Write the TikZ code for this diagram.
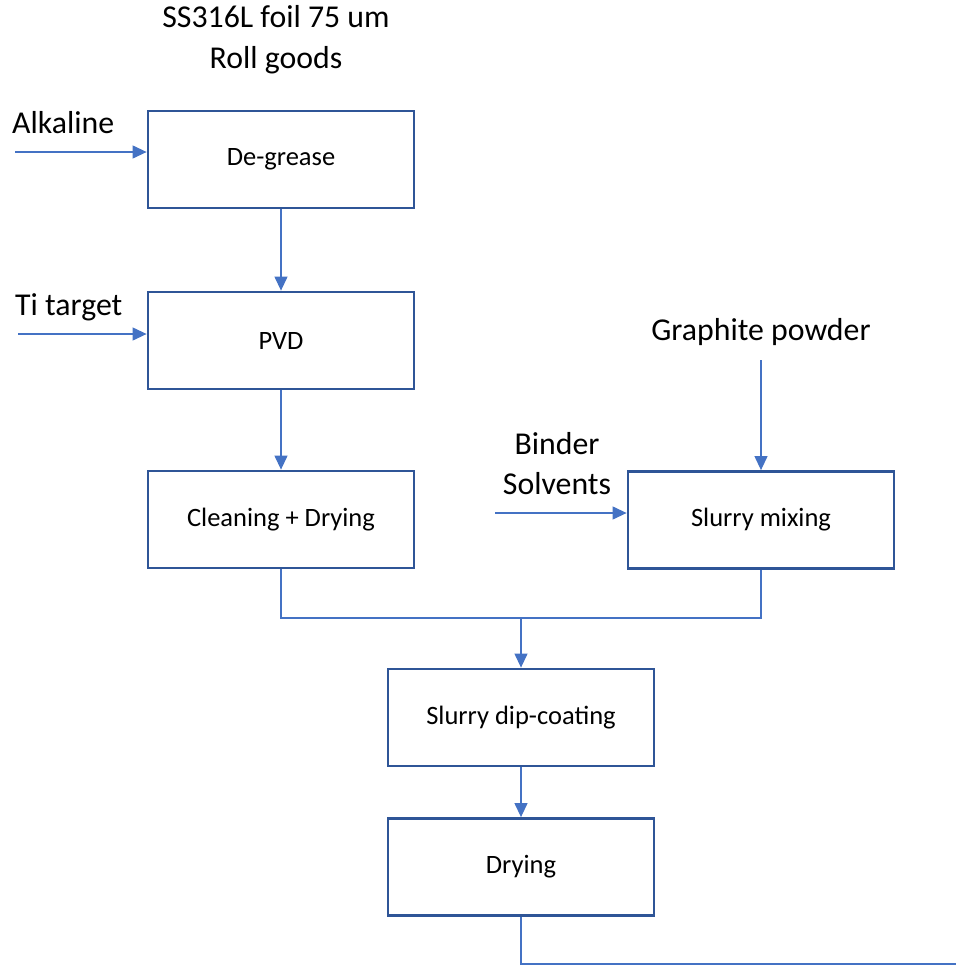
\documentclass[tikz,border=0pt]{standalone}
\usepackage{fontspec}
\setmainfont{Carlito}
\definecolor{boxline}{HTML}{2F5597}
\definecolor{flow}{HTML}{4472C4}
\usetikzlibrary{arrows.meta, positioning}

\begin{document}
\begin{tikzpicture}[x=1pt, y=-1pt,
  proc/.style={draw=boxline, line width=2.8pt, fill=white,
               minimum width=266pt, minimum height=97pt, inner sep=0pt,
               font=\fontsize{26.5}{30}\selectfont},
  lbl/.style={font=\fontsize{31.8}{40}\selectfont, align=center, inner sep=0pt},
  flw/.style={draw=flow, line width=1.2pt, -{Triangle[length=14pt, width=13pt]}},
  pipe/.style={draw=flow, line width=1.2pt},
]
\useasboundingbox (0,0) rectangle (956,966);

% process boxes
\node[proc] (degrease) at (281,159.5) {De-grease};
\node[proc] (pvd)      at (281,340.5) {PVD};
\node[proc] (clean)    at (281,519.5) {Cleaning + Drying};
\node[proc] (mixing)   at (761,520)   {Slurry mixing};
\node[proc] (dipcoat)  at (521,717.5) {Slurry dip-coating};
\node[proc] (drying)   at (521,867)   {Drying};

% feed labels (base = last line)
\node[lbl, anchor=base] (foil) at (276,68) {SS316L foil 75 um\\Roll goods};
\node[lbl, anchor=base west] (alkaline) at (12,133) {Alkaline};
\node[lbl, anchor=base west] (titarget) at (15,315) {Ti target};
\node[lbl, anchor=base] (graphite) at (761,340) {Graphite powder};
\node[lbl, anchor=base] (binder) at (557,494) {Binder\\Solvents};

\coordinate (alkin)  at (15,152);
\coordinate (tiin)   at (18,334);
\coordinate (grin)   at (761,360);
\coordinate (bdin)   at (495,513);
\coordinate (merge)  at (521,618);
\coordinate (outend) at (956,964);

% flows
\draw[flw] (alkin) -- (alkin -| degrease.west);
\draw[flw] (tiin) -- (tiin -| pvd.west);
\draw[flw] (grin) -- (mixing.north);
\draw[flw] (bdin) -- (bdin -| mixing.west);
\draw[flw] (degrease) -- (pvd);
\draw[flw] (pvd) -- (clean);
\draw[pipe] (clean.south) |- (merge) -| (mixing.south);
\draw[flw] (merge) -- (dipcoat.north);
\draw[flw] (dipcoat) -- (drying);
\draw[pipe] (drying.south) |- (outend);
\end{tikzpicture}
\end{document}
